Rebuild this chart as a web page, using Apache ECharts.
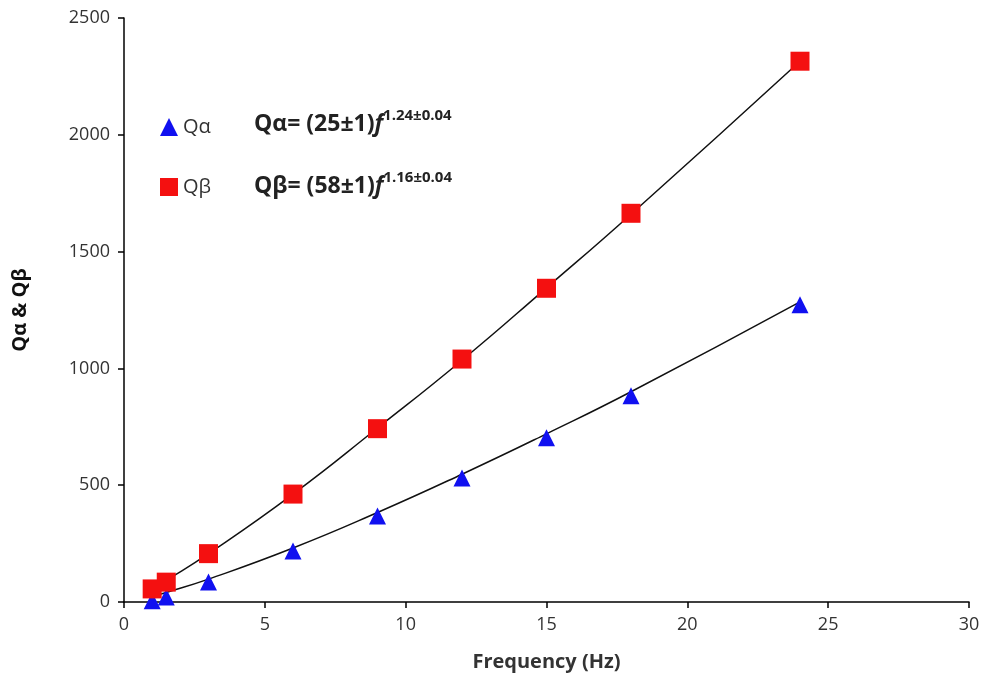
<!DOCTYPE html>
<html><head><meta charset="utf-8">
<script src="https://cdn.jsdelivr.net/npm/echarts@6/dist/echarts.min.js"></script>
<style>html,body{margin:0;padding:0;background:#fff}#c{width:989px;height:690px}</style>
</head><body><div id="c"></div>
<script>
const freq = [1, 1.5, 3, 6, 9, 12, 15, 18, 24];
const qAlpha = [5, 21, 86, 218, 368, 531, 703, 883, 1272];
const qBeta = [56, 85, 207, 462, 742, 1040, 1343, 1664, 2315];
const fitAlpha = [25, 41, 98, 231, 383, 547, 720, 900, 1285];
const fitBeta = [58, 93, 207, 462, 745, 1035, 1345, 1660, 2315];
const xTicks = [0, 5, 10, 15, 20, 25, 30];
const yTicks = [0, 500, 1000, 1500, 2000, 2500];

const pair = (xs, ys) => xs.map((x, i) => [x, ys[i]]);
const F = '"Open Sans", "Liberation Sans", sans-serif';
const richF = {
  b: { fontFamily: F, fontSize: 23, fontWeight: 'bold', fill: '#222', verticalAlign: 'bottom', letterSpacing: 0.6 },
  i: { fontFamily: F, fontSize: 23, fontWeight: 'bold', fontStyle: 'italic', fill: '#222', verticalAlign: 'bottom' },
  s: { fontFamily: F, fontSize: 15, fontWeight: 'bold', fill: '#222', verticalAlign: 'top', padding: [0,0,13,0] }
};
const chart = echarts.init(document.getElementById('c'));
chart.setOption({
  backgroundColor: '#fff',
  animation: false,
  grid: { left: 124, right: 20, top: 18, bottom: 88 },
  xAxis: {
    type: 'value', min: 0, max: 30, interval: 5,
    name: 'Frequency (Hz)', nameLocation: 'middle', nameGap: 50,
    nameTextStyle: { fontFamily: F, fontSize: 20, fontWeight: 'bold', color: '#333' },
    axisLine: { lineStyle: { color: '#000', width: 1.5 } },
    axisTick: { show: true, length: 6, lineStyle: { color: '#000', width: 1.5 } },
    axisLabel: { fontFamily: F, fontSize: 18, color: '#333', margin: 14,
      formatter: v => xTicks.includes(v) ? String(v) : '' },
    splitLine: { show: false }
  },
  yAxis: {
    type: 'value', min: 0, max: 2500, interval: 500,
    name: 'Qα & Qβ', nameLocation: 'middle', nameGap: 94, nameRotate: 90,
    nameTextStyle: { fontFamily: F, fontSize: 20, fontWeight: 'bold', color: '#111' },
    axisLine: { show: true, lineStyle: { color: '#000', width: 1.5 } },
    axisTick: { show: true, length: 6, lineStyle: { color: '#000', width: 1.5 } },
    axisLabel: { fontFamily: F, fontSize: 18, color: '#333', margin: 14,
      formatter: v => yTicks.includes(v) ? String(v) : '' },
    splitLine: { show: false }
  },
  legend: {
    orient: 'vertical', left: 155, top: 112, itemGap: 40,
    itemWidth: 18, itemHeight: 18,
    textStyle: { fontFamily: F, fontSize: 20, color: '#333' },
    data: [
      { name: 'Qα', icon: 'triangle', itemStyle: { color: '#1010f0', opacity: 1 } },
      { name: 'Qβ', icon: 'rect', itemStyle: { color: '#f41010', opacity: 1 } }
    ]
  },
  graphic: [
    { type: 'text', left: 254, top: 108, style: { text: '{b|Qα= (25±1)}{i|f}{s|1.24±0.04}', rich: richF } },
    { type: 'text', left: 254, top: 170, style: { text: '{b|Qβ= (58±1)}{i|f}{s|1.16±0.04}', rich: richF } }
  ],
  series: [
    { name: 'fitα', type: 'line', data: pair(freq, fitAlpha), smooth: true, showSymbol: false,
      lineStyle: { color: '#111', width: 1.5 }, z: 2, silent: true },
    { name: 'fitβ', type: 'line', data: pair(freq, fitBeta), smooth: true, showSymbol: false,
      lineStyle: { color: '#111', width: 1.5 }, z: 2, silent: true },
    { name: 'Qα', type: 'scatter', data: pair(freq, qAlpha), symbol: 'triangle', symbolSize: 17,
      itemStyle: { color: '#1010f0', opacity: 1 }, z: 3 },
    { name: 'Qβ', type: 'scatter', data: pair(freq, qBeta), symbol: 'rect', symbolSize: 19,
      itemStyle: { color: '#f41010', opacity: 1 }, z: 3 }
  ]
});
</script></body></html>
